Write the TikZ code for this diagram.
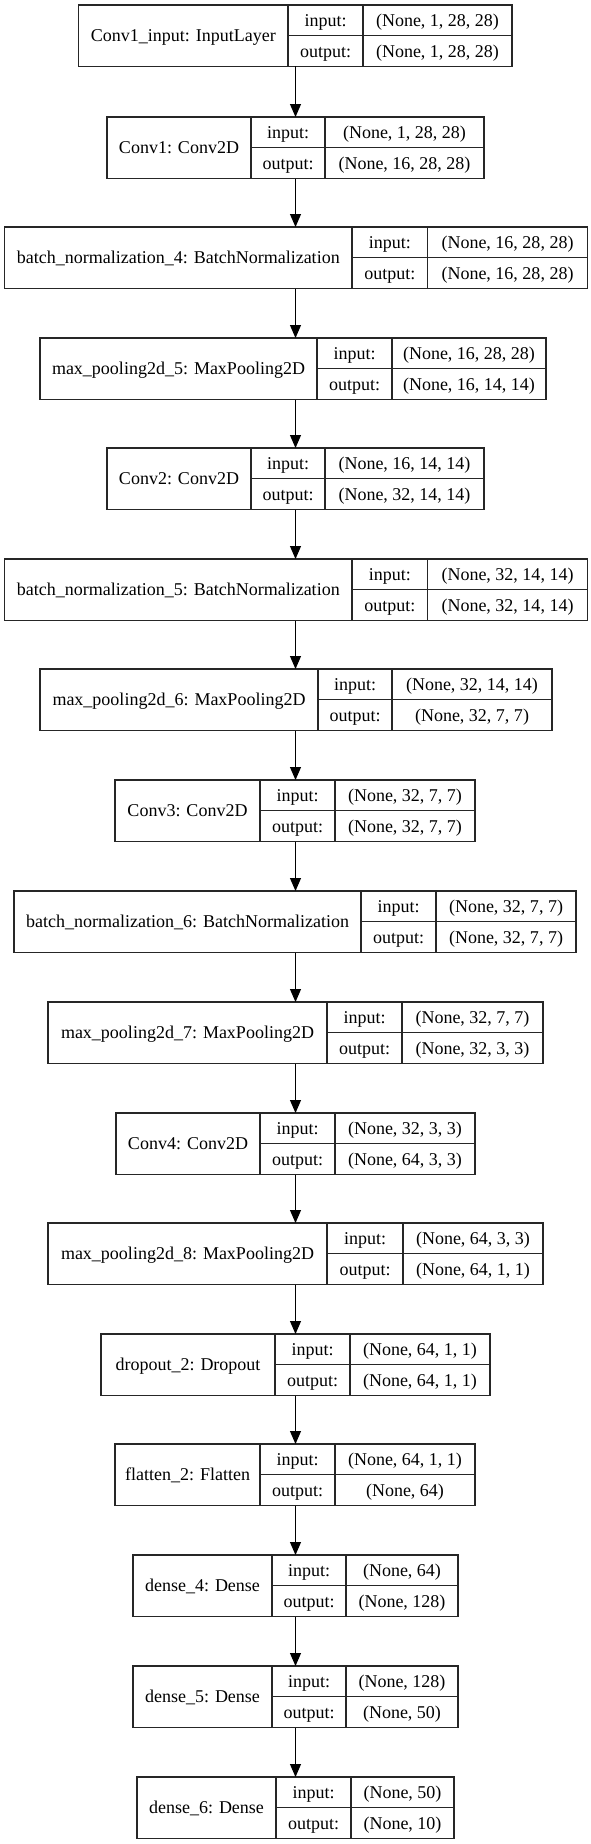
\documentclass[tikz,border=0pt]{standalone}
\usepackage{fontspec}
\setmainfont{Liberation Serif}
\usetikzlibrary{arrows.meta}
\tikzset{
  boxline/.style={draw=black!85, line width=1.1pt},
  layerbox/.style={boxline, rectangle, inner sep=0pt, outer sep=0pt, anchor=north west},
  txt/.style={inner sep=0pt, text height=12pt, text depth=0pt, anchor=center, font=\fontsize{18}{20}\selectfont},
  arr/.style={draw=black, line width=1pt, -{Triangle[width=11pt,length=13pt]}},
}
\newcommand\layer[9]{%
  \pgfmathsetmacro\lw{#6-#3}%
  \node[layerbox, minimum width=\lw pt, minimum height=61.5pt] (#1) at (#3,-#2) {};
  \draw[boxline] (#4,-#2) -- (#4,{-#2-61.5});
  \draw[boxline] (#5,-#2) -- (#5,{-#2-61.5});
  \draw[boxline] (#4,{-#2-30.75}) -- (#6,{-#2-30.75});
  \node[txt] (#1l) at ({(#3+#4)/2},{-#2-30.75}) {#7};
  \node[txt] (#1i) at ({(#4+#5)/2},{-#2-15.4}) {input:};
  \node[txt] (#1o) at ({(#4+#5)/2},{-#2-46.1}) {output:};
  \node[txt] (#1a) at ({(#5+#6)/2},{-#2-15.4}) {#8};
  \node[txt] (#1b) at ({(#5+#6)/2},{-#2-46.1}) {#9};
}
\begin{document}
\begin{tikzpicture}[x=1pt,y=1pt]
\useasboundingbox (0,0) rectangle (591,-1844);
\fill[white] (0,0) rectangle (591,-1844);
\coordinate (ax) at (295.5,0);
\layer{b1}{5}{78.5}{288}{363}{512}{Conv1\_input: InputLayer}{(None, 1, 28, 28)}{(None, 1, 28, 28)}
\layer{b2}{117}{107}{251}{325}{484}{Conv1: Conv2D}{(None, 1, 28, 28)}{(None, 16, 28, 28)}
\layer{b3}{227}{4.5}{352}{427.5}{587.5}{batch\_normalization\_4: BatchNormalization}{(None, 16, 28, 28)}{(None, 16, 28, 28)}
\layer{b4}{338}{40}{317}{392}{546}{max\_pooling2d\_5: MaxPooling2D}{(None, 16, 28, 28)}{(None, 16, 14, 14)}
\layer{b5}{448}{107}{251}{325}{484}{Conv2: Conv2D}{(None, 16, 14, 14)}{(None, 32, 14, 14)}
\layer{b6}{559}{4.5}{352}{427.5}{587.5}{batch\_normalization\_5: BatchNormalization}{(None, 32, 14, 14)}{(None, 32, 14, 14)}
\layer{b7}{669}{40}{318}{392}{552}{max\_pooling2d\_6: MaxPooling2D}{(None, 32, 14, 14)}{(None, 32, 7, 7)}
\layer{b8}{780}{115}{260}{335}{475}{Conv3: Conv2D}{(None, 32, 7, 7)}{(None, 32, 7, 7)}
\layer{b9}{891}{14}{361}{436}{576}{batch\_normalization\_6: BatchNormalization}{(None, 32, 7, 7)}{(None, 32, 7, 7)}
\layer{b10}{1002}{48}{327}{402}{543}{max\_pooling2d\_7: MaxPooling2D}{(None, 32, 7, 7)}{(None, 32, 3, 3)}
\layer{b11}{1113}{116}{260}{335}{475}{Conv4: Conv2D}{(None, 32, 3, 3)}{(None, 64, 3, 3)}
\layer{b12}{1223}{48}{327}{403}{543}{max\_pooling2d\_8: MaxPooling2D}{(None, 64, 3, 3)}{(None, 64, 1, 1)}
\layer{b13}{1334}{101}{275}{350}{490}{dropout\_2: Dropout}{(None, 64, 1, 1)}{(None, 64, 1, 1)}
\layer{b14}{1444}{115}{260}{335}{475}{flatten\_2: Flatten}{(None, 64, 1, 1)}{(None, 64)}
\layer{b15}{1555}{133}{272}{346}{458}{dense\_4: Dense}{(None, 64)}{(None, 128)}
\layer{b16}{1666}{133}{272}{346}{458}{dense\_5: Dense}{(None, 128)}{(None, 50)}
\layer{b17}{1777}{137}{276}{351}{454}{dense\_6: Dense}{(None, 50)}{(None, 10)}
\foreach \a/\b in {b1/b2,b2/b3,b3/b4,b4/b5,b5/b6,b6/b7,b7/b8,b8/b9,b9/b10,b10/b11,b11/b12,b12/b13,b13/b14,b14/b15,b15/b16,b16/b17}
  \draw[arr] (\a.south -| ax) -- (\b.north -| ax);
\end{tikzpicture}
\end{document}
